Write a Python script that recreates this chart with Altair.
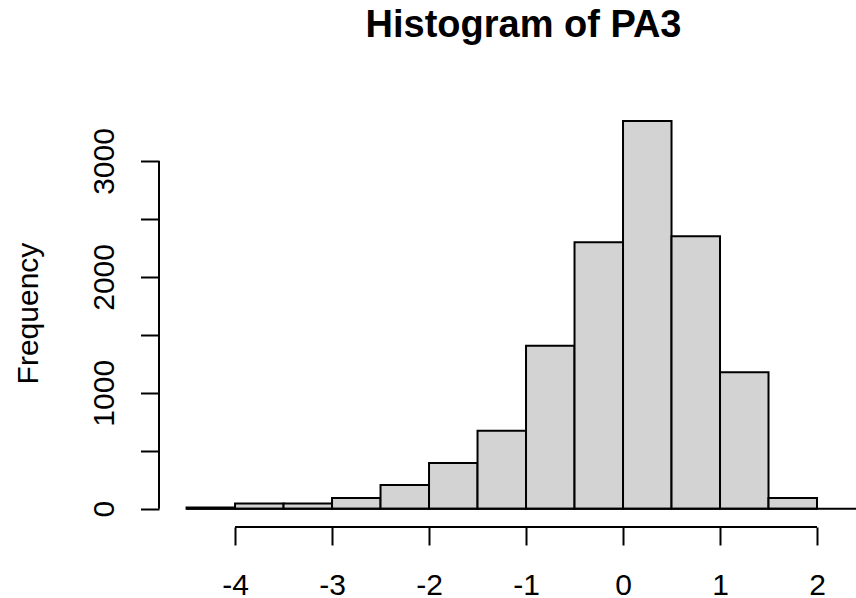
import altair as alt
import pandas as pd

# ---- data ----
bin_start = [-4.5, -4.0, -3.5, -3.0, -2.5, -2.0, -1.5, -1.0, -0.5, 0.0, 0.5, 1.0, 1.5]
bin_width = 0.5
counts = [10, 45, 45, 92, 204, 394, 672, 1405, 2299, 3345, 2351, 1178, 92]
x_ticks = [-4, -3, -2, -1, 0, 1, 2]
y_ticks = [0, 500, 1000, 1500, 2000, 2500, 3000]
chart_title = "Histogram of PA3"
y_title = "Frequency"

X_MIN, X_MAX = -4.784, 2.402
Y_MIN, Y_MAX = -158, 3483
FONT = "Liberation Sans"

bars_df = pd.DataFrame({
    "start": bin_start,
    "end": [b + bin_width for b in bin_start],
    "count": counts,
})

xs = alt.Scale(domain=[X_MIN, X_MAX], nice=False, zero=False)
ys = alt.Scale(domain=[Y_MIN, Y_MAX], nice=False, zero=False)

x_axis = alt.Axis(
    values=x_ticks, domain=False, grid=False, title=None,
    tickSize=18, tickWidth=2, tickColor="black",
    labelFont=FONT, labelFontSize=30, labelColor="black",
    labelBaseline="alphabetic", labelPadding=49,
    labelExpr="datum.value + ''", labelOverlap=False,
)
y_axis = alt.Axis(
    values=y_ticks, domain=False, grid=False,
    tickSize=18.5, tickWidth=2, tickColor="black",
    labelFont=FONT, labelFontSize=30, labelColor="black",
    labelAngle=270, labelAlign="center", labelBaseline="alphabetic",
    labelPadding=27, labelOverlap=False,
    labelExpr="datum.value % 1000 == 0 ? datum.value + '' : ''",
    title=y_title, titleFont=FONT, titleFontSize=30, titleFontWeight="normal",
    titleColor="black", titleAngle=270, titleAlign="center",
    titleBaseline="middle", titleX=-131, titleY=208,
)

bars = alt.Chart(bars_df).mark_rect(
    fill="#D3D3D3", stroke="black", strokeWidth=2
).encode(
    x=alt.X("start:Q", scale=xs, axis=x_axis),
    x2="end:Q",
    y=alt.Y("count:Q", scale=ys, axis=y_axis),
    y2=alt.datum(0),
)

baseline_df = pd.DataFrame({"x": [bin_start[0]], "x2": [X_MAX], "y": [0]})
baseline = alt.Chart(baseline_df).mark_rule(color="black", strokeWidth=2).encode(
    x=alt.X("x:Q", scale=xs, axis=x_axis),
    x2="x2:Q",
    y=alt.Y("y:Q", scale=ys, axis=y_axis),
)

yline_df = pd.DataFrame({"x": [X_MIN], "y": [y_ticks[0]], "y2": [y_ticks[-1]]})
yline = alt.Chart(yline_df).mark_rule(color="black", strokeWidth=2).encode(
    x=alt.X("x:Q", scale=xs, axis=x_axis),
    y=alt.Y("y:Q", scale=ys, axis=y_axis),
    y2="y2:Q",
)

xline_df = pd.DataFrame({"x": [x_ticks[0]], "x2": [x_ticks[-1]], "y": [Y_MIN]})
xline = alt.Chart(xline_df).mark_rule(color="black", strokeWidth=2).encode(
    x=alt.X("x:Q", scale=xs, axis=x_axis),
    x2="x2:Q",
    y=alt.Y("y:Q", scale=ys, axis=y_axis),
)

chart = alt.layer(bars, baseline, yline, xline).properties(
    width=697,
    height=422,
    title=alt.TitleParams(
        chart_title, font=FONT, fontSize=38, fontWeight="bold", color="black",
        anchor="middle", frame="group", dx=16, offset=30, baseline="alphabetic",
    ),
    padding={"left": 159, "top": 105, "right": 0, "bottom": 71},
    autosize=alt.AutoSizeParams(type="none"),
    background="white",
).configure_view(stroke=None)

chart.save("out.html", embed_options={"renderer": "svg", "actions": False})
